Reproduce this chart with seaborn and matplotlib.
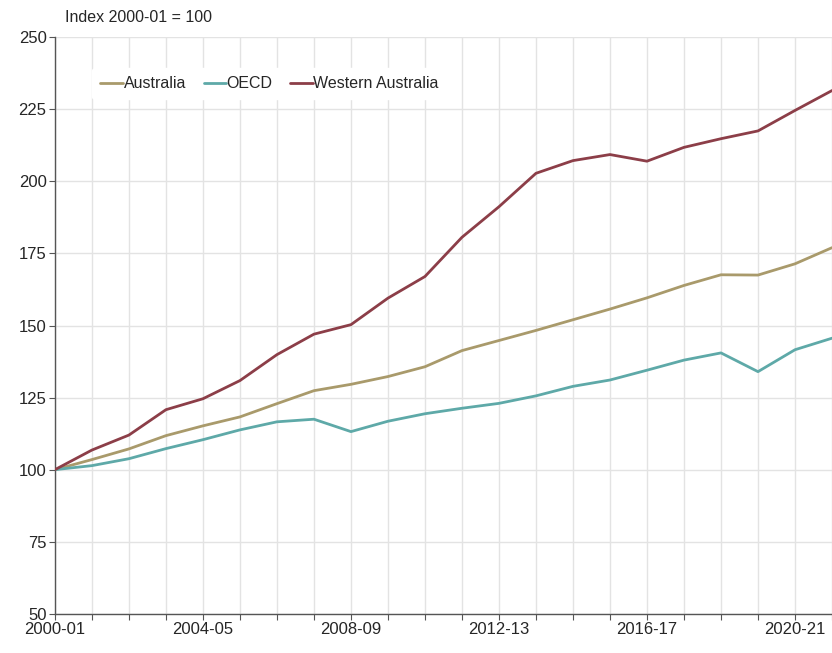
import pandas as pd
import matplotlib.pyplot as plt
import seaborn as sns

sns.set_style("white")
plt.rcParams['font.family'] = ['Liberation Sans Narrow', 'Liberation Sans', 'DejaVu Sans']

# financial years
years = ['2000-01', '2001-02', '2002-03', '2003-04', '2004-05', '2005-06', '2006-07',
         '2007-08', '2008-09', '2009-10', '2010-11', '2011-12', '2012-13', '2013-14',
         '2014-15', '2015-16', '2016-17', '2017-18', '2018-19', '2019-20', '2020-21',
         '2021-22']

australia = [100, 103.5, 107.2, 111.8, 115.2, 118.3, 122.9, 127.4, 129.6, 132.3, 135.7,
             141.3, 144.8, 148.3, 152.0, 155.7, 159.6, 163.9, 167.6, 167.5, 171.4, 177.0]
oecd = [100, 101.4, 103.8, 107.3, 110.4, 113.8, 116.6, 117.5, 113.2, 116.8, 119.4,
        121.3, 123.0, 125.6, 128.9, 131.1, 134.5, 138.0, 140.5, 134.0, 141.6, 145.6]
western_australia = [100, 106.8, 112.0, 120.8, 124.6, 130.9, 139.9, 147.0, 150.3, 159.5,
                     167.0, 180.6, 191.2, 202.8, 207.2, 209.3, 207.0, 211.8, 214.8, 217.5,
                     224.6, 231.5]

series = {'Australia': australia, 'OECD': oecd, 'Western Australia': western_australia}
colors = {'Australia': '#a99a6b', 'OECD': '#5ea9a8', 'Western Australia': '#8c3e48'}

rows = []
for name, vals in series.items():
    for i, v in enumerate(vals):
        rows.append({'pos': i, 'value': v, 'series': name})
data = pd.DataFrame(rows)

fig = plt.figure(figsize=(8.32, 6.53), dpi=100)
ax = fig.add_axes([0.066, 0.06, 0.934, 0.883])

sns.lineplot(data=data, x='pos', y='value', hue='series', palette=colors,
             linewidth=2.0, ax=ax, zorder=3)

ax.set_xlim(0, len(years) - 1)
ax.set_ylim(50, 250)
ax.set_yticks(range(50, 251, 25))
ax.set_xticks(range(len(years)))
ax.set_xticklabels([y if i % 4 == 0 else '' for i, y in enumerate(years)])
ax.tick_params(axis='both', labelsize=12, length=4, width=0.8, color='#555555',
               direction='out', left=True, bottom=True, pad=2)
ax.grid(True, color='#e3e3e3', linewidth=1)
ax.set_axisbelow(True)
for s in ['top', 'right']:
    ax.spines[s].set_visible(False)
for s in ['left', 'bottom']:
    ax.spines[s].set_color('#555555')
    ax.spines[s].set_linewidth(1)
ax.set_xlabel('')
ax.set_ylabel('')

leg = ax.legend(loc='upper left', bbox_to_anchor=(0.038, 0.96), ncol=3, frameon=True,
                fontsize=11.5, handlelength=1.4, handletextpad=0.05, columnspacing=1.1,
                borderpad=0.5)
leg.get_frame().set_facecolor('white')
leg.get_frame().set_edgecolor('white')
leg.get_frame().set_alpha(1)

fig.text(0.078, 0.973, 'Index 2000-01 = 100', fontsize=11.5, va='center', ha='left')

fig.savefig('out.png', dpi=100)
